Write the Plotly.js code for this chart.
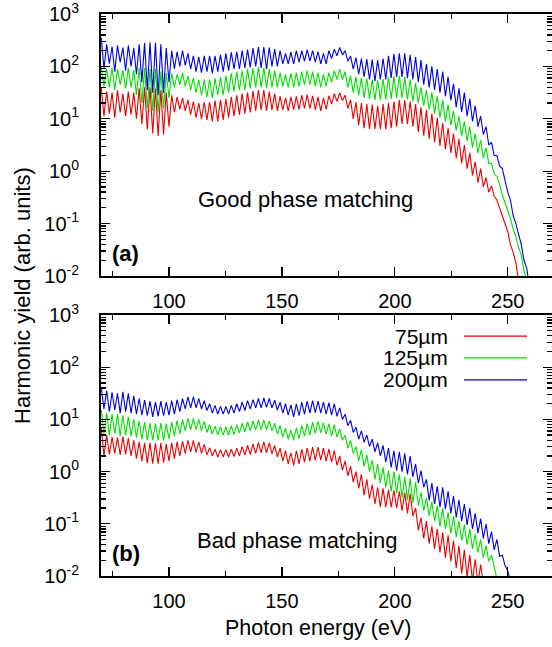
<!DOCTYPE html>
<html>
<head>
<meta charset="utf-8">
<script src="https://cdn.plot.ly/plotly-3.0.1.min.js"></script>
<style>html,body{margin:0;padding:0;background:#fff;}#chart{width:552px;height:647px;}</style>
</head>
<body>
<div id="chart"></div>
<script>
// Photon energy grid (eV): alternating harmonic peak / trough positions
const energy = [
70,71.2,72.4,73.6,74.8,76,77.2,78.4,79.6,80.8,
82,83.2,84.4,85.6,86.8,88,89.2,90.4,91.6,92.8,
94,95.2,96.4,97.6,98.8,100,101.2,102.4,103.6,104.8,
106,107.2,108.4,109.6,110.8,112,113.2,114.4,115.6,116.8,
118,119.2,120.4,121.6,122.8,124,125.2,126.4,127.6,128.8,
130,131.2,132.4,133.6,134.8,136,137.2,138.4,139.6,140.8,
142,143.2,144.4,145.6,146.8,148,149.2,150.4,151.6,152.8,
154,155.2,156.4,157.6,158.8,160,161.2,162.4,163.6,164.8,
166,167.2,168.4,169.6,170.8,172,173.2,174.4,175.6,176.8,
178,179.2,180.4,181.6,182.8,184,185.2,186.4,187.6,188.8,
190,191.2,192.4,193.6,194.8,196,197.2,198.4,199.6,200.8,
202,203.2,204.4,205.6,206.8,208,209.2,210.4,211.6,212.8,
214,215.2,216.4,217.6,218.8,220,221.2,222.4,223.6,224.8,
226,227.2,228.4,229.6,230.8,232,233.2,234.4,235.6,236.8,
238,239.2,240.4,241.6,242.8,244,245.2,246.4,247.6,248.8,
250,251.2,252.4,253.6,254.8,256,257.2,258.4,259.6,260.8];

// Harmonic yield, stored as log10(yield)
// (a) Good phase matching
const good75_log10 = [
1.6,1.05,1.52,1.1,1.5,1.02,1.55,1.12,1.48,1.05,
1.52,1.08,1.5,1.0,1.58,0.9,1.6,0.8,1.6,0.72,
1.58,0.67,1.55,0.7,1.5,0.85,1.45,1.12,1.42,1.18,
1.4,1.15,1.36,1.08,1.33,1.02,1.3,1.0,1.32,0.98,
1.32,0.95,1.35,0.95,1.36,0.98,1.38,1.02,1.42,1.05,
1.45,1.08,1.48,1.1,1.5,1.12,1.53,1.15,1.55,1.17,
1.55,1.15,1.52,1.17,1.48,1.15,1.43,1.17,1.4,1.15,
1.42,1.17,1.43,1.18,1.45,1.2,1.46,1.2,1.44,1.17,
1.42,1.15,1.4,1.18,1.44,1.28,1.48,1.33,1.5,1.35,
1.45,1.2,1.36,1.0,1.32,0.88,1.3,0.82,1.28,0.8,
1.27,0.8,1.25,0.8,1.28,0.8,1.3,0.82,1.33,0.85,
1.36,0.9,1.36,0.9,1.33,0.85,1.28,0.75,1.22,0.68,
1.17,0.62,1.1,0.55,1.02,0.48,0.92,0.42,0.82,0.35,
0.72,0.25,0.62,0.15,0.5,0.05,0.35,-0.08,0.18,-0.22,
0.05,-0.3,-0.12,-0.4,-0.28,-0.48,-0.55,-0.7,-0.85,-1.0,
-1.15,-1.4,-1.55,-1.75,-2.1];
const good125_log10 = [
2.0,1.62,1.95,1.6,1.97,1.55,1.95,1.65,1.93,1.58,
1.97,1.6,1.93,1.45,1.98,1.3,1.97,1.2,1.95,1.15,
1.95,1.12,1.9,1.2,1.88,1.4,1.87,1.6,1.85,1.65,
1.88,1.62,1.82,1.55,1.78,1.5,1.75,1.45,1.75,1.42,
1.75,1.4,1.77,1.45,1.8,1.45,1.82,1.5,1.87,1.52,
1.9,1.55,1.92,1.55,1.95,1.58,1.97,1.6,1.99,1.6,
1.98,1.58,1.95,1.6,1.92,1.6,1.88,1.62,1.85,1.6,
1.87,1.6,1.88,1.62,1.9,1.65,1.92,1.65,1.9,1.62,
1.88,1.6,1.85,1.62,1.88,1.7,1.92,1.75,1.95,1.75,
1.9,1.6,1.82,1.5,1.8,1.45,1.78,1.4,1.77,1.38,
1.75,1.36,1.74,1.36,1.76,1.37,1.8,1.38,1.82,1.4,
1.82,1.4,1.8,1.37,1.75,1.33,1.68,1.3,1.6,1.25,
1.55,1.18,1.5,1.1,1.43,1.02,1.36,0.95,1.27,0.88,
1.15,0.78,1.05,0.68,0.95,0.58,0.85,0.45,0.72,0.35,
0.6,0.25,0.45,0.15,0.15,-0.05,-0.1,-0.25,-0.45,-0.6,
-0.75,-0.9,-1.1,-1.25,-1.45,-1.6,-1.9,-2.1];
const good200_log10 = [
2.55,1.95,2.42,2.05,2.38,1.9,2.4,2.08,2.36,1.92,
2.4,2.0,2.35,1.85,2.42,1.7,2.45,1.55,2.46,1.5,
2.45,1.45,2.42,1.5,2.35,1.7,2.3,1.95,2.28,2.0,
2.3,2.02,2.25,1.95,2.2,1.9,2.18,1.88,2.2,1.9,
2.2,1.87,2.2,1.9,2.22,1.9,2.25,1.92,2.27,1.95,
2.28,1.95,2.3,1.97,2.32,1.98,2.35,2.0,2.37,1.97,
2.37,1.95,2.36,2.0,2.33,2.0,2.3,2.05,2.25,2.05,
2.27,2.05,2.3,2.08,2.3,2.1,2.32,2.1,2.3,2.08,
2.28,2.05,2.25,2.05,2.3,2.15,2.33,2.2,2.36,2.22,
2.3,2.1,2.2,1.95,2.17,1.85,2.15,1.8,2.14,1.75,
2.13,1.72,2.12,1.75,2.15,1.75,2.2,1.78,2.24,1.8,
2.25,1.8,2.25,1.78,2.22,1.75,2.18,1.7,2.12,1.65,
2.05,1.6,2.0,1.55,1.95,1.5,1.9,1.43,1.8,1.35,
1.67,1.22,1.58,1.13,1.5,1.05,1.38,0.95,1.25,0.85,
1.05,0.7,0.85,0.5,0.55,0.3,0.3,0.1,0.05,-0.2,
-0.4,-0.55,-0.85,-1.0,-1.2,-1.4,-1.7,-1.85,-2.2];

// (b) Bad phase matching
const bad75_log10 = [
0.85,0.3,0.7,0.33,0.66,0.35,0.65,0.32,0.67,0.33,
0.64,0.3,0.6,0.25,0.57,0.2,0.55,0.16,0.55,0.15,
0.54,0.15,0.55,0.17,0.53,0.2,0.55,0.25,0.57,0.3,
0.58,0.35,0.6,0.38,0.6,0.37,0.57,0.35,0.52,0.32,
0.46,0.3,0.43,0.28,0.42,0.28,0.42,0.28,0.43,0.29,
0.45,0.3,0.48,0.32,0.5,0.33,0.53,0.35,0.56,0.36,
0.57,0.36,0.55,0.34,0.5,0.28,0.45,0.2,0.4,0.15,
0.36,0.12,0.4,0.15,0.43,0.18,0.45,0.2,0.47,0.22,
0.47,0.22,0.45,0.2,0.43,0.18,0.4,0.12,0.3,0.03,
0.2,-0.08,0.1,-0.2,0.0,-0.32,-0.05,-0.45,-0.15,-0.52,
-0.25,-0.62,-0.3,-0.68,-0.32,-0.68,-0.35,-0.68,-0.36,-0.7,
-0.38,-0.75,-0.4,-0.8,-0.42,-0.85,-0.7,-1.12,-0.88,-1.28,
-0.95,-1.38,-1.05,-1.48,-1.1,-1.55,-1.17,-1.65,-1.22,-1.72,
-1.32,-1.85,-1.42,-1.95,-1.5,-2.02,-1.6,-2.1,-1.68,-2.15,
-1.78,-2.15,-2.1];
const bad125_log10 = [
1.18,0.72,1.12,0.7,1.1,0.72,1.1,0.68,1.08,0.7,
1.05,0.68,1.0,0.65,0.97,0.62,0.95,0.6,0.93,0.6,
0.92,0.6,0.93,0.6,0.92,0.62,0.95,0.68,0.98,0.72,
1.0,0.78,1.02,0.8,1.02,0.8,1.0,0.78,0.96,0.75,
0.9,0.72,0.87,0.7,0.86,0.7,0.86,0.7,0.88,0.71,
0.9,0.74,0.93,0.76,0.95,0.78,0.97,0.8,0.99,0.8,
0.99,0.8,0.97,0.78,0.93,0.72,0.88,0.66,0.83,0.62,
0.8,0.6,0.84,0.63,0.88,0.68,0.92,0.7,0.95,0.73,
0.96,0.74,0.94,0.72,0.92,0.68,0.9,0.66,0.82,0.6,
0.7,0.45,0.6,0.35,0.48,0.2,0.42,0.1,0.32,0.0,
0.22,-0.15,0.15,-0.22,0.08,-0.3,0.02,-0.38,0.0,-0.42,
-0.05,-0.5,-0.1,-0.55,-0.13,-0.6,-0.2,-0.65,-0.4,-0.75,
-0.5,-0.85,-0.58,-0.95,-0.65,-1.05,-0.7,-1.1,-0.78,-1.18,
-0.85,-1.25,-0.95,-1.32,-1.02,-1.4,-1.1,-1.48,-1.2,-1.55,
-1.3,-1.65,-1.42,-1.72,-1.6,-1.85,-2.05];
const bad200_log10 = [
1.62,1.2,1.55,1.15,1.52,1.18,1.5,1.12,1.53,1.15,
1.5,1.12,1.45,1.1,1.4,1.08,1.37,1.07,1.35,1.05,
1.33,1.06,1.35,1.07,1.33,1.08,1.36,1.1,1.38,1.15,
1.4,1.2,1.43,1.22,1.43,1.22,1.4,1.2,1.36,1.17,
1.3,1.12,1.27,1.1,1.25,1.1,1.25,1.1,1.27,1.12,
1.3,1.15,1.33,1.17,1.36,1.2,1.38,1.22,1.4,1.22,
1.41,1.23,1.4,1.22,1.37,1.18,1.33,1.12,1.3,1.08,
1.28,1.05,1.3,1.07,1.33,1.1,1.35,1.12,1.36,1.13,
1.35,1.12,1.33,1.1,1.32,1.08,1.3,1.06,1.22,1.0,
1.1,0.88,0.98,0.75,0.85,0.62,0.78,0.56,0.7,0.48,
0.62,0.38,0.55,0.3,0.5,0.18,0.45,0.08,0.4,0.02,
0.38,0.0,0.35,-0.05,0.3,-0.1,0.15,-0.22,0.02,-0.3,
-0.15,-0.55,-0.22,-0.62,-0.28,-0.68,-0.3,-0.72,-0.38,-0.8,
-0.47,-0.88,-0.54,-0.95,-0.62,-1.02,-0.7,-1.1,-0.8,-1.18,
-0.9,-1.28,-1.0,-1.38,-1.15,-1.5,-1.3,-1.62,-1.6,-1.8,
-1.9,-2.1];

const seriesNames = ['75\u00b5m', '125\u00b5m', '200\u00b5m'];
const seriesColors = ['rgb(235,0,0)', 'rgb(0,225,0)', 'rgb(0,0,225)'];
const xTickVals = [100, 150, 200, 250];
const yTickVals = [0.01, 0.1, 1, 10, 100, 1000];
const yTickText = ['10<sup>-2</sup>', '10<sup>-1</sup>', '10<sup>0</sup>', '10<sup>1</sup>', '10<sup>2</sup>', '10<sup>3</sup>'];

const FONT = 'Liberation Sans, Arial, Helvetica, sans-serif';

function mk(logArr, i, xa, ya) {
  return {
    type: 'scatter', mode: 'lines',
    x: energy.slice(0, logArr.length),
    y: logArr.map(v => Math.pow(10, v)),
    name: seriesNames[i], showlegend: false,
    line: {color: seriesColors[i], width: 1.1},
    xaxis: xa, yaxis: ya, hoverinfo: 'skip'
  };
}

const traces = [
  mk(good75_log10, 0, 'x', 'y'),
  mk(good125_log10, 1, 'x', 'y'),
  mk(good200_log10, 2, 'x', 'y'),
  mk(bad75_log10, 0, 'x2', 'y2'),
  mk(bad125_log10, 1, 'x2', 'y2'),
  mk(bad200_log10, 2, 'x2', 'y2')
];

function xAxis(anchor) {
  return {
    anchor: anchor, domain: [0, 1], range: [69.9, 269.6],
    tickmode: 'array', tickvals: xTickVals,
    ticks: 'inside', ticklen: 9, tickwidth: 1.3, tickcolor: '#000',
    minor: {ticks: 'inside', ticklen: 5, tickwidth: 1.3, dtick: 25, tick0: 0, tickcolor: '#000'},
    showline: true, linecolor: '#000', linewidth: 2, mirror: 'ticks',
    showgrid: false, zeroline: false,
    tickfont: {family: FONT, size: 20, color: '#000'},
    ticklabelstandoff: 6, ticklabeloverflow: 'allow'
  };
}
function yAxis(anchor, domain) {
  return {
    anchor: anchor, domain: domain, type: 'log', range: [-2, 3],
    tickmode: 'array', tickvals: yTickVals, ticktext: yTickText,
    ticks: 'inside', ticklen: 9, tickwidth: 1.3, tickcolor: '#000',
    minor: {ticks: 'inside', ticklen: 5, tickwidth: 1.3, dtick: 'D1', tickcolor: '#000'},
    showline: true, linecolor: '#000', linewidth: 2, mirror: 'ticks',
    showgrid: false, zeroline: false,
    tickfont: {family: FONT, size: 20, color: '#000'},
    ticklabelstandoff: 16, ticklabeloverflow: 'allow'
  };
}

const legendY = [0.427, 0.388, 0.349];
const annotations = [
  {text: 'Good phase matching', xref: 'paper', yref: 'paper', x: 0.4545, y: 0.6708, showarrow: false,
   xanchor: 'center', yanchor: 'middle', font: {family: FONT, size: 22, color: '#000'}},
  {text: 'Bad phase matching', xref: 'paper', yref: 'paper', x: 0.4357, y: 0.064, showarrow: false,
   xanchor: 'center', yanchor: 'middle', font: {family: FONT, size: 22, color: '#000'}},
  {text: '<b>(a)</b>', xref: 'paper', yref: 'paper', x: 0.0554, y: 0.5747, showarrow: false,
   xanchor: 'center', yanchor: 'middle', font: {family: FONT, size: 22, color: '#000'}},
  {text: '<b>(b)</b>', xref: 'paper', yref: 'paper', x: 0.0554, y: 0.0409, showarrow: false,
   xanchor: 'center', yanchor: 'middle', font: {family: FONT, size: 22, color: '#000'}},
  {text: 'Harmonic yield (arb. units)', xref: 'paper', yref: 'paper', x: -0.1752, y: 0.5, showarrow: false,
   textangle: -90, xanchor: 'center', yanchor: 'middle', font: {family: FONT, size: 22, color: '#000'}},
  {text: 'Photon energy (eV)', xref: 'paper', yref: 'paper', x: 0.4812, y: -0.0925, showarrow: false,
   xanchor: 'center', yanchor: 'middle', font: {family: FONT, size: 21.5, color: '#000'}}
];
const shapes = [];
seriesNames.forEach((nm, i) => {
  annotations.push({text: nm, xref: 'paper', yref: 'paper', x: 0.7738, y: legendY[i], showarrow: false,
    xanchor: 'right', yanchor: 'middle', font: {family: FONT, size: 21, color: '#000'}});
  shapes.push({type: 'line', xref: 'paper', yref: 'paper', x0: 0.8049, x1: 0.9446, y0: legendY[i], y1: legendY[i],
    line: {color: seriesColors[i], width: 1.3}});
});

const layout = {
  width: 552, height: 647,
  margin: {l: 101, r: 0, t: 14, b: 71, pad: 0},
  paper_bgcolor: '#fff', plot_bgcolor: '#fff',
  showlegend: false,
  font: {family: FONT, color: '#000'},
  xaxis: xAxis('y'),
  yaxis: yAxis('x', [0.5338, 1]),
  xaxis2: xAxis('y2'),
  yaxis2: yAxis('x2', [0, 0.4644]),
  annotations: annotations,
  shapes: shapes
};

Plotly.newPlot('chart', traces, layout, {displayModeBar: false, staticPlot: true});
</script>
</body>
</html>
